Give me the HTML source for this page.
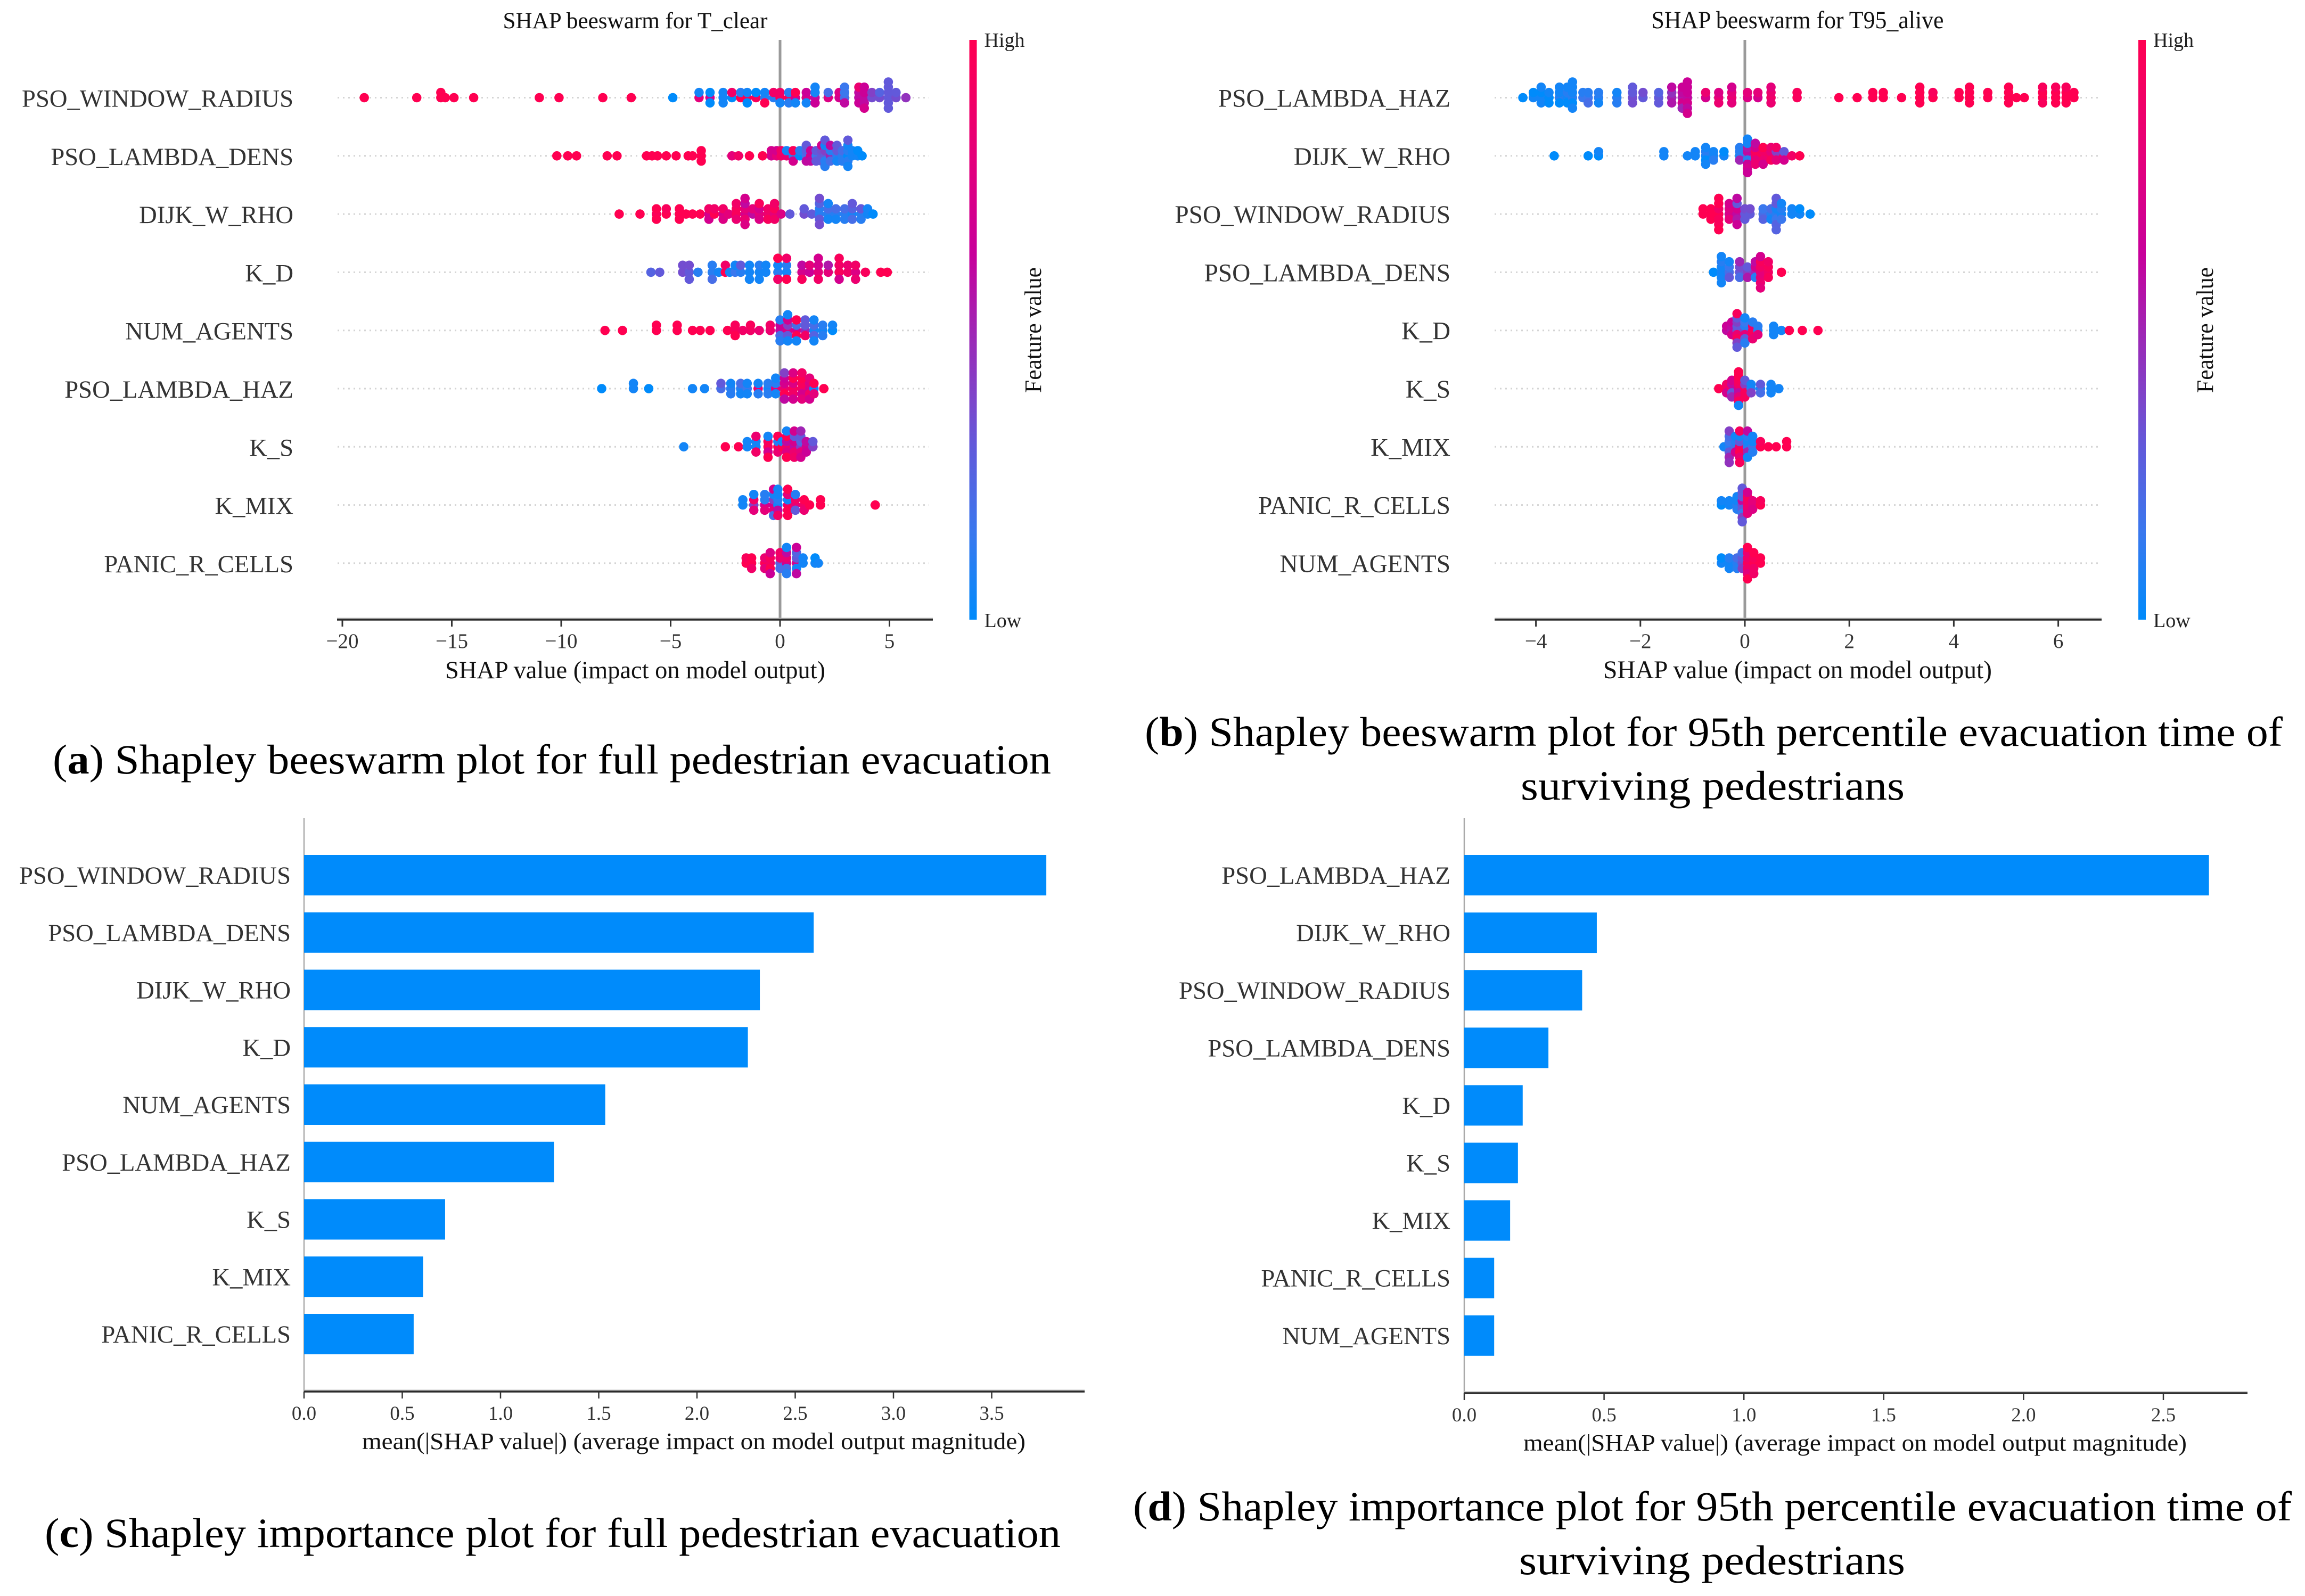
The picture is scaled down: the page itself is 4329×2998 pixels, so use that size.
<!DOCTYPE html>
<html lang="en">
<head>
<meta charset="utf-8">
<title>Shapley beeswarm and importance plots</title>
<style>
html,body{margin:0;padding:0;background:#fff;width:4329px;height:2998px;overflow:hidden}
svg{display:block}
text{font-family:"Liberation Serif","Times New Roman",serif}
</style>
</head>
<body>
<svg id="figure" xmlns="http://www.w3.org/2000/svg" width="4329" height="2998" viewBox="0 0 4329 2998">
  <defs>
    <linearGradient id="redblue" x1="0" y1="1" x2="0" y2="0">
      <stop offset="0" stop-color="#008bfb"/>
      <stop offset="0.15" stop-color="#3a78ee"/>
      <stop offset="0.3" stop-color="#6259da"/>
      <stop offset="0.37" stop-color="#7a48cc"/>
      <stop offset="0.5" stop-color="#a025b4"/>
      <stop offset="0.63" stop-color="#c8009b"/>
      <stop offset="0.8" stop-color="#e5007a"/>
      <stop offset="1" stop-color="#ff0051"/>
    </linearGradient>
  </defs>
  <rect x="0" y="0" width="4329" height="2998" fill="#fff"/>
  <g id="panelA"></g>
  <g id="panelB"></g>
  <g id="panelC"></g>
  <g id="panelD"></g>

  <text x="99" y="1453" font-size="78" fill="#000" textLength="1875" lengthAdjust="spacingAndGlyphs">(<tspan font-weight="bold">a</tspan>) Shapley beeswarm plot for full pedestrian evacuation</text>
  <text x="2150" y="1401" font-size="78" fill="#000" textLength="2137" lengthAdjust="spacingAndGlyphs">(<tspan font-weight="bold">b</tspan>) Shapley beeswarm plot for 95th percentile evacuation time of</text>
  <text x="2856" y="1502" font-size="78" fill="#000" textLength="721" lengthAdjust="spacingAndGlyphs">surviving pedestrians</text>
  <text x="84" y="2906" font-size="78" fill="#000" textLength="1908" lengthAdjust="spacingAndGlyphs">(<tspan font-weight="bold">c</tspan>) Shapley importance plot for full pedestrian evacuation</text>
  <text x="2128" y="2856" font-size="78" fill="#000" textLength="2176" lengthAdjust="spacingAndGlyphs">(<tspan font-weight="bold">d</tspan>) Shapley importance plot for 95th percentile evacuation time of</text>
  <text x="2853" y="2957" font-size="78" fill="#000" textLength="725" lengthAdjust="spacingAndGlyphs">surviving pedestrians</text>
</svg>
<script>
// ---------- Panel (a) categories and points: each entry is [shap, featureValue, featureValue, ...]
const aLabels = ["PSO_WINDOW_RADIUS","PSO_LAMBDA_DENS","DIJK_W_RHO","K_D","NUM_AGENTS","PSO_LAMBDA_HAZ","K_S","K_MIX","PANIC_R_CELLS"];
const aTicks = [-20,-15,-10,-5,0,5];
const aWindowRadius = [[-19,1],[-16.6,1],[-15.5,1,1],[-15.3,1],[-14.9,1],[-14,1],[-11,1],[-10.1,1],[-8.1,1],[-6.8,1],[-4.9,0],[-3.7,.8,.05],[-3.2,.7,0,0],[-2.6,.05,.05,.05],[-2.2,0,.9],[-1.8,1,.1],[-1.5,1,.05,0],[-1.1,.95,0],[-.7,.1,.05,1],[-.3,.1,.9],[0,.95,.9,.05],[.4,.95,.1,.1],[.7,.7,1,.05],[1.2,.75,.65,.05],[1.6,.6,.05,.65,.05],[2.2,.75,.2],[2.7,.7,.75],[2.95,.2,.15,.6,.15],[3.6,.6,.6,.65,.85],[3.85,.6,.65,.6,.65,.7],[4.2,.35,.4],[4.55,.35,.25],[4.95,.3,.3,.3,.3,.3,.3],[5.3,.35,.3],[5.75,.45]];
const aLambdaDens = [[-10.2,1],[-9.7,1],[-9.3,1],[-7.9,1],[-7.45,1],[-6.1,1],[-5.85,1],[-5.6,1],[-5.2,1],[-4.75,1],[-4.2,1],[-4,1],[-3.6,1,1,1],[-2.2,.8],[-1.9,.9],[-1.4,1],[-.8,1],[-.4,.7,.7],[-.15,.8,.7],[.05,.9,.9],[.3,.85,.05],[.6,.1,.95,.7],[.9,0,.1],[1.2,.2,.25,.6,.3],[1.4,.7,.65,.6],[1.65,.15,.3,.3],[1.9,.3,.35,.3,.7],[2.05,.3,.4,.1,.05,.1,.3],[2.3,.5,.1,.2,.6],[2.6,.1,.3,.05,.3],[2.85,.1,.2,.1],[3.1,0,.1,.1,.05,.05,.3],[3.3,.05,.05],[3.55,.05,0],[3.75,0]];
const aDijk = [[-7.35,1],[-6.4,1],[-5.65,.95,1,1],[-5.2,1,.95],[-4.6,1,1,1],[-4.3,1],[-4,1],[-3.65,1],[-3.25,.7,.9,.7],[-3,1,.9],[-2.6,.7,.9,.75],[-2.35,.8],[-2,.95,.95,.85,.9],[-1.6,.7,.8,.85,.6,.75,.7],[-1.25,.6,.8],[-.95,.8,.7,.75,.95],[-.55,.85,.9,.95],[-.25,.8,.95,.9,.9],[.05,.75],[.45,.3],[1.1,.35,.3],[1.45,.3],[1.8,.1,.1,.3,.25,.35,.35],[2.2,.1,.2,.05,.05],[2.55,.1,.2,.05],[2.95,.1,.2,.1],[3.3,.05,.25,.2,.3],[3.7,.1,.3,.1],[4,.05,.05],[4.25,0]];
const aKD = [[-5.9,.25],[-5.5,.3],[-4.45,.35,.35],[-4.15,.3,.35,.3],[-3.75,.1],[-3.1,.1,.1,.2],[-2.8,.05],[-2.5,1,.9],[-2.3,.05],[-2.05,.15,.05],[-1.8,.1,.3],[-1.4,.05,.05,.05],[-.95,.05,.1,.05],[-.65,.05,.05],[-.1,.1,.05,.9,1],[.3,.05,.1,1,.9],[1,.7,.6,.95],[1.35,.65,.8],[1.75,.8,.7,.9,.7],[2.2,.8,.55],[2.7,.95,.9,.7,.95],[3.1,.9,.85],[3.45,.75,.9,.85],[3.9,.95],[4.6,1],[4.9,1]];
const aNumAgents = [[-8,1],[-7.2,1],[-5.65,1,1],[-4.7,1,1],[-4,1],[-3.65,1],[-3.2,1],[-2.4,1],[-2.05,.95,.95,1],[-1.7,.9],[-1.35,.9,.95],[-.95,.85],[-.45,.85,.9],[0,.6,.65,.2,.1,.1],[.35,.75,.4,.3,.7,.05,.05],[.75,.7,.2,1,1,.05],[1.15,.5,.3,.9,.3],[1.55,.05,.2,.25,.05,.05],[1.95,.05,.1,.1],[2.4,0,.05]];
const aLambdaHaz = [[-8.15,0],[-6.7,.05,.05],[-6,0],[-4,.05],[-3.45,.05],[-2.7,.2,.3],[-2.25,.1,.05,.1],[-1.8,.1,.2,.05],[-1.5,.15,.05,.05],[-1,.85,.05,.1],[-.55,.05,.1,.1],[-.2,.8,.1,.05,.05],[.2,.85,.7,1,.65,.6,.4],[.6,.95,.75,.9,1,.7,.75],[1,.9,.95,.7,1,.8,.9],[1.35,.7,.75,.9,.8,.7],[1.55,.05,1,.8],[2,1]];
const aKS = [[-4.4,.05],[-2.5,1],[-1.9,1],[-1.5,.05,.05],[-1.1,.05,.05,.9,.85],[-.55,.95,.95,.7,.05,1],[-.1,1,.1,.85,1],[.1,1,.05],[.3,.9,.6,.75,1,1,.05],[.65,.6,.7,.85,.3,.9,.7],[.95,.4,.25,.8,.3,.7,.5],[1.2,.7,.6,.65],[1.5,.4,.3]];
const aKMix = [[-1.7,.05,.05],[-1.2,.4,.9,.8,.05],[-.7,.7,.1,.8,.1],[-.3,.7,.4,.8,.05,.2,.7],[-.1,.05,.1,.6,.05,.9,.05],[.35,.9,.05,1,.8,1,1],[.7,.8,.9,.3,.1],[1.1,.9,1,.85],[1.35,1],[1.85,1,1],[4.35,1]];
const aPanic = [[-1.55,1,.95],[-1.3,1,1,.9],[-.7,1,.85,.8],[-.45,.9,.95,1,.75,.65],[0,.3,.85,.2,.9],[.3,.7,.85,.2,.6,.1,.05],[.75,.7,.3,.05,.25,.6,.65],[1.05,.05,.05],[1.6,.05,0],[1.75,.05]];

// ---------- Panel (b)
const bLabels = ["PSO_LAMBDA_HAZ","DIJK_W_RHO","PSO_WINDOW_RADIUS","PSO_LAMBDA_DENS","K_D","K_S","K_MIX","PANIC_R_CELLS","NUM_AGENTS"];
const bTicks = [-4,-2,0,2,4,6];
const bLambdaHaz = [[-4.25,0],[-4.05,.05,0],[-3.9,.05,0,.05,.05],[-3.75,0,.05,0],[-3.55,.1,.05,0,.05],[-3.4,.05,.1,0,.05],[-3.3,.1,.05,0,.05,.05,.05],[-3.1,.15,.1],[-3,.15,.1,.2],[-2.8,.1,.1,.05],[-2.45,.1,.05,.1],[-2.15,.35,.3,.35,.3],[-1.95,.3,.35],[-1.65,.3,.25,.3],[-1.4,.5,.45,.55,.6],[-1.2,.55,.6,.7,.65,.5],[-1.1,.6,.65,.7,.65,.6,.65,.7],[-.75,.7,.85],[-.5,.8,.75,.85],[-.25,.85,.8,.8,.7],[.05,.75,.8],[.25,.7,.8],[.5,.9,.85,.85,.8],[1,.95,.95],[1.8,1],[2.15,1],[2.45,1,1],[2.65,1,1],[3,1],[3.35,1,1,1,1],[3.6,1,.95],[4.1,1,1],[4.3,1,1,1,1],[4.65,1,1],[5.05,1,1,1,1],[5.2,1],[5.35,1],[5.7,1,1,.95,.95],[5.95,1,1,1,.95],[6.15,1,1,1,.95],[6.3,1,1]];
const bDijk = [[-3.65,0],[-3,0],[-2.8,0,.05],[-1.55,.05,.05],[-1.1,.05],[-.95,.05,.05],[-.75,.05,.1,0,.05,.05],[-.6,.05,.05,.1],[-.4,.05,0],[-.1,.05,.1,.5,.1],[.05,.3,.6,.1,.55,.65,.05,.7,.05,.65],[.2,.9,.95,.8,.7,.85,.6],[.35,1,.9,.85,1,.7],[.5,.9,.8,.95,.85],[.6,.85,.4,.8,.9],[.75,.9,.3,.7],[.9,.9],[1.05,1]];
const bWindowRadius = [[-.8,1,1],[-.65,1,1,1],[-.5,1,.9,.95,1,.95,1,1],[-.3,.7,.75,.8,.7],[-.15,.6,.7,.55,.3,.65,.6],[0,.3,.35,.3],[.1,.3,.35],[.35,.2,.15,.25],[.5,.1,.2,.05],[.6,.1,.05,.15,.3,.25,.3,.25],[.7,.05,.1,.15,.05],[.9,.05,.05],[1.05,.05,0],[1.25,0]];
const bLambdaDens = [[-.6,0],[-.45,.05,.05,.05,.1,.05,.05],[-.3,.2,.15,.3,.05],[-.1,.3,.35,.2,.5],[.05,.4,.3,.55],[.2,.5,.7,.1,.6],[.3,.8,.9,.8,.95,.85,.7,.8],[.45,.9,.95,.95,.9],[.7,1]];
const bKD = [[-.35,.6,.65],[-.25,.55,.6,.7,.65],[-.15,.35,.3,.85,.4,.95,.3,.4,.95,.3],[0,.4,.1,.8,.15,.3,.05,.1],[.15,.95,.9,.95,.1,.85],[.25,.1,.1,.8],[.55,.05,.05,.05],[.7,.05],[.85,1],[1.1,1],[1.4,1]];
const bKS = [[-.5,1],[-.35,.95,.9,.7],[-.25,.9,.6,.3,.7,.5],[-.12,.7,.9,.6,.95,.8,1,.95,1,.05],[0,.9,.4,.95,.3,.95],[.12,.1,.05,.4],[.3,.05,.3,.2],[.5,.05,.05,.05],[.65,.05]];
const bKMix = [[-.4,.05],[-.3,.1,.15,.3,.2,.5,.4,.45],[-.18,.2,.1,.7,.05],[-.1,.9,.3,1,.05,.85,.95,.95],[.05,.1,.05,.5,.1,.05,.6],[.15,.2,.05,.1,.05],[.3,1,.95],[.45,1],[.6,1],[.8,1,1]];
const bPanic = [[-.45,0,.05],[-.3,.05,.05],[-.15,.1,.05,.1,.05],[-.05,.35,.6,.3,.3,.15,.3,.4,.3,.3],[.05,.85,.9,.85,.95,.8,.7],[.15,.8,.8,.75],[.3,1,.95]];
const bNumAgents = [[-.45,.05,0],[-.3,.05,.1,.05],[-.15,.1,.2,.1],[-.05,.35,.3,.4,.2],[.05,.95,.9,.9,.85,.8,1,1],[.17,1,.95,.9,1,.9],[.3,1,1]];

// ---------- Panel (c)
const cLabels = ["PSO_WINDOW_RADIUS","PSO_LAMBDA_DENS","DIJK_W_RHO","K_D","NUM_AGENTS","PSO_LAMBDA_HAZ","K_S","K_MIX","PANIC_R_CELLS"];
const cValues = [3.778,2.594,2.32,2.259,1.533,1.272,.718,.606,.558];
const cTicks = ["0.0","0.5","1.0","1.5","2.0","2.5","3.0","3.5"];

// ---------- Panel (d)
const dLabels = ["PSO_LAMBDA_HAZ","DIJK_W_RHO","PSO_WINDOW_RADIUS","PSO_LAMBDA_DENS","K_D","K_S","K_MIX","PANIC_R_CELLS","NUM_AGENTS"];
const dValues = [2.663,.474,.4216,.301,.209,.192,.164,.107,.107];
const dTicks = ["0.0","0.5","1.0","1.5","2.0","2.5"];

const aRows = [aWindowRadius,aLambdaDens,aDijk,aKD,aNumAgents,aLambdaHaz,aKS,aKMix,aPanic];
const bRows = [bLambdaHaz,bDijk,bWindowRadius,bLambdaDens,bKD,bKS,bKMix,bPanic,bNumAgents];

const NS = "http://www.w3.org/2000/svg";
function mk(parent, tag, attrs, txt){
  const el = document.createElementNS(NS, tag);
  for (const k in attrs) el.setAttribute(k, attrs[k]);
  if (txt !== undefined) el.textContent = txt;
  parent.appendChild(el);
  return el;
}
function name(el, n, inter){
  
  
  return el;
}
const colorStops = [[0,[0,139,251]],[.15,[58,120,238]],[.3,[98,89,218]],[.37,[122,72,204]],[.5,[160,37,180]],[.63,[200,0,155]],[.8,[229,0,122]],[1,[255,0,81]]];
function featureColor(v){
  for (let i = 1; i < colorStops.length; i++){
    if (v <= colorStops[i][0]){
      const a = colorStops[i-1], b = colorStops[i], t = (v-a[0])/(b[0]-a[0]);
      return 'rgb(' + a[1].map((c,j)=>Math.round(c+(b[1][j]-c)*t)).join(',') + ')';
    }
  }
  return 'rgb(255,0,81)';
}
// SHAP-style beeswarm stacking: quantise into 100 bins, stack alternately up/down in each bin
function layoutRow(cols){
  const pts = [];
  cols.forEach(c => { for (let i = 1; i < c.length; i++) pts.push({s:c[0], f:c[i]}); });
  const lo = Math.min(...pts.map(p=>p.s)), hi = Math.max(...pts.map(p=>p.s));
  pts.forEach((p,i) => { p.q = Math.round(100*(p.s-lo)/(hi-lo+1e-8)); p.i = i; });
  const sorted = pts.slice().sort((a,b)=>a.q-b.q||a.i-b.i);
  let layer = 0, last = -1, top = 0;
  sorted.forEach(p => {
    if (p.q !== last) layer = 0;
    p.lay = Math.ceil(layer/2) * (layer%2 ? 1 : -1);
    if (layer === 0) p.lay = 0;
    top = Math.max(top, p.lay);
    layer++; last = p.q;
  });
  return {pts, top};
}
function beeswarm(cfg){
  const g = document.getElementById(cfg.id);
  const x = v => cfg.x0 + cfg.k*v;
  const y = i => cfg.row0 + cfg.rowH*i;
  // title
  name(mk(g,'text',{x:cfg.titleX,y:53,'font-size':cfg.titleFs,'text-anchor':'middle',fill:'#111',textLength:cfg.titleW,lengthAdjust:'spacingAndGlyphs'},cfg.title),'chart-title');
  // grid
  cfg.labels.forEach((l,i)=>{
    const d = mk(g,'line',{x1:cfg.gridL,x2:cfg.gridR,y1:y(i),y2:y(i),stroke:'#d4d4d4','stroke-width':3,'stroke-dasharray':'3 7'});
    name(d,'row-gridline');
    const t = mk(g,'text',{x:cfg.labelR,y:y(i)+17,'font-size':cfg.labelFs,'text-anchor':'end',fill:'#333'},l);
    name(t,'feature-label');
  });
  // zero line
  name(mk(g,'line',{x1:cfg.x0,x2:cfg.x0,y1:75,y2:cfg.axisY,stroke:'#9a9a9a','stroke-width':5}),'zero-line');
  // x axis
  name(mk(g,'line',{x1:cfg.axisL,x2:cfg.axisR,y1:cfg.axisY-2,y2:cfg.axisY-2,stroke:'#bdbdbd','stroke-width':3}),'x-axis-shadow');
  name(mk(g,'line',{x1:cfg.axisL,x2:cfg.axisR,y1:cfg.axisY,y2:cfg.axisY,stroke:'#2b2b2b','stroke-width':3.5}),'x-axis');
  cfg.ticks.forEach(v=>{
    name(mk(g,'line',{x1:x(v),x2:x(v),y1:cfg.axisY,y2:cfg.axisY+13,stroke:'#333','stroke-width':3}),'x-tick');
    name(mk(g,'text',{x:x(v),y:1217,'font-size':39,'text-anchor':'middle',fill:'#333'},(v<0?'\u2212':'')+Math.abs(v)),'x-tick-label');
  });
  name(mk(g,'text',{x:cfg.titleX,y:1274,'font-size':cfg.xlabelFs,'text-anchor':'middle',fill:'#111',textLength:cfg.xlabelW,lengthAdjust:'spacingAndGlyphs'},'SHAP value (impact on model output)'),'x-axis-title');
  // dots
  cfg.rows.forEach((cols,i)=>{
    const {pts, top} = layoutRow(cols);
    const step = 0.36*cfg.rowH/(top+1);
    pts.forEach(p=>{
      const c = mk(g,'circle',{cx:x(p.s).toFixed(1),cy:(y(i)-p.lay*step).toFixed(1),r:8.8,fill:featureColor(p.f)});
      
      
    });
  });
  // colorbar
  name(mk(g,'rect',{x:cfg.cbX,y:75,width:14,height:cfg.axisY-75,fill:'url(#redblue)'}),'colorbar');
  name(mk(g,'text',{x:cfg.cbX+28,y:88,'font-size':38,fill:'#222'},'High'),'colorbar-high-label');
  name(mk(g,'text',{x:cfg.cbX+28,y:1178,'font-size':38,fill:'#222'},'Low'),'colorbar-low-label');
  const fv = mk(g,'text',{x:0,y:0,'font-size':44,fill:'#111','text-anchor':'middle',textLength:236,lengthAdjust:'spacingAndGlyphs',transform:'translate('+cfg.fvX+',620) rotate(-90)'},'Feature value');
  name(fv,'colorbar-title');
}
function barPanel(cfg){
  const g = document.getElementById(cfg.id);
  const x = v => cfg.x0 + cfg.k*v;
  const y = i => cfg.row0 + cfg.rowH*i;
  name(mk(g,'line',{x1:cfg.x0,x2:cfg.x0,y1:1537,y2:cfg.axisY,stroke:'#aaa','stroke-width':2.5}),'y-axis');
  cfg.values.forEach((v,i)=>{
    const r = mk(g,'rect',{x:cfg.x0,y:y(i)-38,width:cfg.k*v,height:76,fill:'#008bfb'});
    
    
    name(mk(g,'text',{x:cfg.labelR,y:y(i)+16,'font-size':46.6,'text-anchor':'end',fill:'#333'},cfg.labels[i]),'feature-label');
  });
  name(mk(g,'line',{x1:cfg.x0,x2:cfg.axisR,y1:cfg.axisY-2,y2:cfg.axisY-2,stroke:'#bdbdbd','stroke-width':3}),'x-axis-shadow');
  name(mk(g,'line',{x1:cfg.x0,x2:cfg.axisR,y1:cfg.axisY,y2:cfg.axisY,stroke:'#2b2b2b','stroke-width':3.5}),'x-axis');
  cfg.ticks.forEach(t=>{
    const v = parseFloat(t);
    name(mk(g,'line',{x1:x(v),x2:x(v),y1:cfg.axisY,y2:cfg.axisY+13,stroke:'#333','stroke-width':2.5}),'x-tick');
    name(mk(g,'text',{x:x(v),y:cfg.axisY+53,'font-size':37,'text-anchor':'middle',fill:'#333'},t),'x-tick-label');
  });
  name(mk(g,'text',{x:cfg.xlabelX,y:cfg.axisY+108,'font-size':44,'text-anchor':'middle',fill:'#111',textLength:1246,lengthAdjust:'spacingAndGlyphs'},'mean(|SHAP value|) (average impact on model output magnitude)'),'x-axis-title');
}
beeswarm({id:'panelA',title:'SHAP beeswarm for T_clear',titleX:1193,titleW:497,titleFs:43,x0:1465,k:41.1,row0:183.5,rowH:109.3,labels:aLabels,rows:aRows,ticks:aTicks,gridL:634,gridR:1745,axisL:633,axisR:1752,axisY:1164,labelR:551,labelFs:46.6,xlabelFs:46.3,xlabelW:714,cbX:1820.5,fvX:1955});
beeswarm({id:'panelB',title:'SHAP beeswarm for T95_alive',titleX:3376,titleW:549,titleFs:47,x0:3277,k:98.1,row0:183.5,rowH:109.3,labels:bLabels,rows:bRows,ticks:bTicks,gridL:2807,gridR:3940,axisL:2807,axisR:3947,axisY:1164,labelR:2724,labelFs:47.3,xlabelFs:47.3,xlabelW:730,cbX:4016,fvX:4156});
barPanel({id:'panelC',x0:571,k:369,row0:1644,rowH:107.75,labels:cLabels,values:cValues,ticks:cTicks,axisY:2614,axisR:2037,labelR:546,xlabelX:1303});
barPanel({id:'panelD',x0:2750,k:525.2,row0:1644,rowH:108.1,labels:dLabels,values:dValues,ticks:dTicks,axisY:2617,axisR:4221,labelR:2724,xlabelX:3484});
</script>
</body>
</html>
